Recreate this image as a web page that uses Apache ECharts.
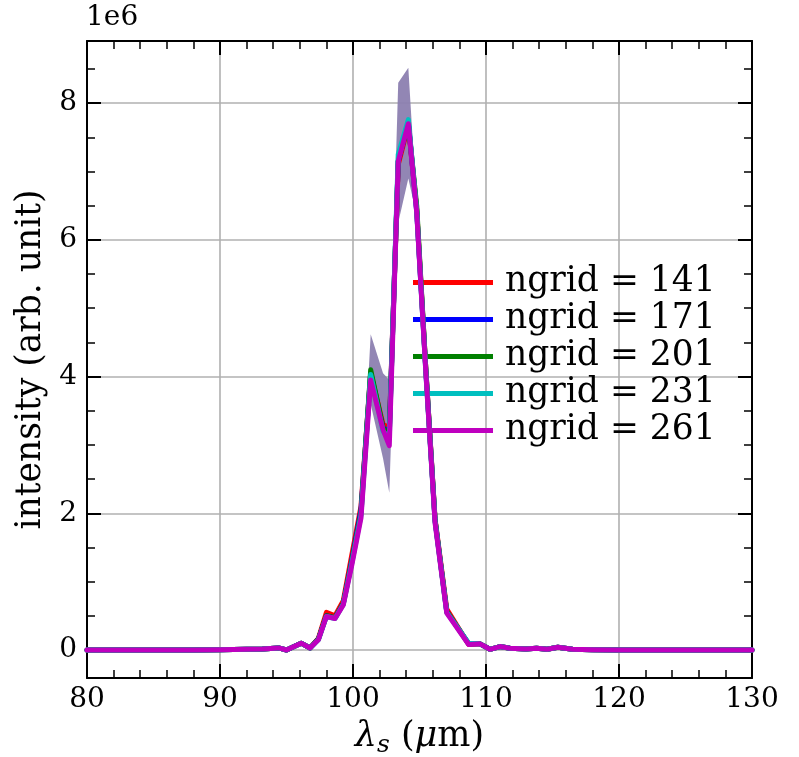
<!DOCTYPE html>
<html>
<head>
<meta charset="utf-8">
<script src="https://cdn.jsdelivr.net/npm/echarts@6/dist/echarts.min.js"></script>
<style>html,body{margin:0;padding:0;background:#fff}#c{width:799px;height:757px}</style>
</head>
<body>
<div id="c"></div>
<script>
// wavelength samples (µm)
const lambdaS = [80, 82, 84, 86, 88, 90, 92, 93.2, 94.4, 95.0, 96.1, 96.77, 97.4, 98.0, 98.65, 99.27, 99.92, 100.6, 101.33, 102.26, 102.73, 103.4, 104.16, 104.79, 105.48, 106.17, 107.05, 108.7, 109.55, 110.3, 111.05, 111.8, 113, 113.8, 114.6, 115.4, 116.5, 118, 120, 125, 130];
// intensity in units of 1e6 (arb. unit)
const ngrid141 = [0, 0, 0, 0, 0, 0.005, 0.01, 0.015, 0.03, 0.0, 0.1, 0.03, 0.17, 0.55, 0.5, 0.72, 1.4, 2.1, 4.05, 3.3, 3.25, 7.1, 7.68, 6.45, 4.1, 1.92, 0.6, 0.08, 0.09, 0.01, 0.05, 0.025, 0.015, 0.025, 0.01, 0.04, 0.01, 0.005, 0, 0, 0];
const ngrid171 = [0, 0, 0, 0, 0, 0.005, 0.01, 0.015, 0.03, 0.0, 0.1, 0.03, 0.16, 0.5, 0.47, 0.68, 1.32, 2.05, 4.05, 3.25, 3.2, 7.15, 7.72, 6.42, 4.08, 1.9, 0.56, 0.09, 0.09, 0.01, 0.05, 0.025, 0.015, 0.025, 0.01, 0.04, 0.01, 0.005, 0, 0, 0];
const ngrid201 = [0, 0, 0, 0, 0, 0.005, 0.01, 0.015, 0.03, 0.0, 0.1, 0.03, 0.16, 0.5, 0.47, 0.68, 1.3, 2.0, 4.1, 3.25, 3.15, 7.15, 7.7, 6.5, 4.1, 1.9, 0.56, 0.09, 0.09, 0.01, 0.05, 0.025, 0.015, 0.025, 0.01, 0.04, 0.01, 0.005, 0, 0, 0];
const ngrid231 = [0, 0, 0, 0, 0, 0.005, 0.01, 0.015, 0.03, 0.0, 0.1, 0.03, 0.15, 0.49, 0.46, 0.67, 1.28, 1.97, 4.03, 3.2, 3.1, 7.25, 7.76, 6.42, 4.05, 1.88, 0.55, 0.1, 0.09, 0.01, 0.05, 0.025, 0.015, 0.025, 0.01, 0.04, 0.01, 0.005, 0, 0, 0];
const ngrid261 = [0, 0, 0, 0, 0, 0.005, 0.01, 0.015, 0.03, 0.0, 0.1, 0.03, 0.15, 0.49, 0.46, 0.66, 1.25, 1.93, 3.95, 3.22, 2.99, 7.15, 7.7, 6.4, 4.05, 1.86, 0.54, 0.08, 0.09, 0.01, 0.05, 0.025, 0.015, 0.025, 0.01, 0.04, 0.01, 0.005, 0, 0, 0];
// spread band (units of 1e6)
const bandX  = [100.6, 101.33, 102.26, 102.73, 103.4, 104.16, 104.79, 105.48];
const bandHi = [1.97, 4.62, 4.05, 3.95, 8.3, 8.52, 6.5, 4.08];
const bandLo = [1.93, 3.6, 2.8, 2.3, 6.25, 6.9, 6.35, 4.02];
const seriesNames = ['ngrid = 141', 'ngrid = 171', 'ngrid = 201', 'ngrid = 231', 'ngrid = 261'];
const seriesValues = [ngrid141, ngrid171, ngrid201, ngrid231, ngrid261];
const seriesColors = ['#ff0000', '#0000ff', '#008000', '#00bfbf', '#bf00bf'];
const xTicks = { min: 80, max: 130, interval: 10 };
const yRange = { min: -0.41, max: 8.91 };

const FONT = 'DejaVu Serif';
const chart = echarts.init(document.getElementById('c'), null, { renderer: 'canvas' });

function axisCommon(extra) {
  return Object.assign({
    axisLine: { show: true, onZero: false, lineStyle: { color: '#000', width: 2 } },
    axisTick: { show: true, inside: true, length: 14, lineStyle: { color: '#000', width: 2 } },
    minorTick: { show: true, length: 8, lineStyle: { color: '#000', width: 1.5 } },
    splitLine: { show: false },
    axisLabel: { show: false }
  }, extra);
}

const series = [{
  type: 'custom',
  coordinateSystem: 'cartesian2d',
  silent: true,
  z: 1,
  data: [[bandX[0], bandLo[0]]],
  renderItem: function (params, api) {
    const pts = [];
    for (let i = 0; i < bandX.length; i++) pts.push(api.coord([bandX[i], bandHi[i]]));
    for (let i = bandX.length - 1; i >= 0; i--) pts.push(api.coord([bandX[i], bandLo[i]]));
    return { type: 'polygon', shape: { points: pts }, style: { fill: '#8c7fb0', opacity: 0.95 } };
  }
}];
seriesNames.forEach(function (name, k) {
  series.push({
    name: name,
    type: 'line',
    z: 2 + k,
    data: lambdaS.map(function (x, i) { return [x, seriesValues[k][i]]; }),
    showSymbol: false,
    symbol: 'none',
    lineStyle: { color: seriesColors[k], width: 5, join: 'round', cap: 'round' },
    itemStyle: { color: seriesColors[k] },
    emphasis: { disabled: true }
  });
});

chart.setOption({
  animation: false,
  backgroundColor: '#fff',
  grid: { left: 87, right: 47, top: 41, bottom: 79, containLabel: false, outerBoundsMode: 'none' },
  title: { text: '1e6', left: 86, top: 4, padding: 0, textStyle: { fontFamily: FONT, fontSize: 28, fontWeight: 'normal', color: '#000' } },
  legend: {
    orient: 'vertical',
    left: 413,
    top: 264,
    padding: 0,
    itemGap: 0,
    itemWidth: 80,
    itemHeight: 5,
    icon: 'rect',
    data: seriesNames,
    textStyle: { fontFamily: FONT, fontSize: 34.5, color: '#000', lineHeight: 37, padding: [0, 0, 0, 7] },
    selectedMode: false
  },
  xAxis: [
    axisCommon({
      type: 'value', position: 'bottom', min: xTicks.min, max: xTicks.max, interval: xTicks.interval,
      minorTick: { show: true, splitNumber: 5, length: 8, lineStyle: { color: '#000', width: 1.5 } },
      splitLine: { show: true, lineStyle: { color: '#b0b0b0', width: 1.6 } },
      axisLabel: { show: true, fontFamily: FONT, fontSize: 28, color: '#000', margin: 8 },
      name: '{i|λ}{sub|s} ({m|μ}m)',
      nameLocation: 'middle',
      nameGap: 37,
      nameTextStyle: {
        fontFamily: FONT, fontSize: 35, color: '#000',
        rich: {
          i: { fontFamily: FONT, fontStyle: 'italic', fontSize: 35, color: '#000' },
          m: { fontFamily: FONT, fontStyle: 'italic', fontSize: 35, color: '#000' },
          sub: { fontFamily: FONT, fontStyle: 'italic', fontSize: 25, color: '#000', padding: [18, 0, 0, 0] }
        }
      }
    }),
    axisCommon({
      type: 'value', position: 'top', min: xTicks.min, max: xTicks.max, interval: xTicks.interval,
      minorTick: { show: true, splitNumber: 5, length: 8, lineStyle: { color: '#000', width: 1.5 } }
    })
  ],
  yAxis: [
    axisCommon({
      type: 'value', position: 'left', min: yRange.min, max: yRange.max, splitNumber: 5,
      minorTick: { show: true, splitNumber: 4, length: 8, lineStyle: { color: '#000', width: 1.5 } },
      splitLine: { show: true, lineStyle: { color: '#b0b0b0', width: 1.6 } },
      axisLabel: { show: true, fontFamily: FONT, fontSize: 28, color: '#000', margin: 10, showMinLabel: false, showMaxLabel: false,
        formatter: function (v) { return (Math.abs(v - Math.round(v)) < 1e-9) ? String(Math.round(v)) : ''; } },
      name: 'intensity (arb. unit)',
      nameLocation: 'middle',
      nameGap: 32,
      nameRotate: 90,
      nameTextStyle: { fontFamily: FONT, fontSize: 34.5, color: '#000' }
    }),
    axisCommon({
      type: 'value', position: 'right', min: yRange.min, max: yRange.max, splitNumber: 5,
      minorTick: { show: true, splitNumber: 4, length: 8, lineStyle: { color: '#000', width: 1.5 } }
    })
  ],
  series: series
});
</script>
</body>
</html>
